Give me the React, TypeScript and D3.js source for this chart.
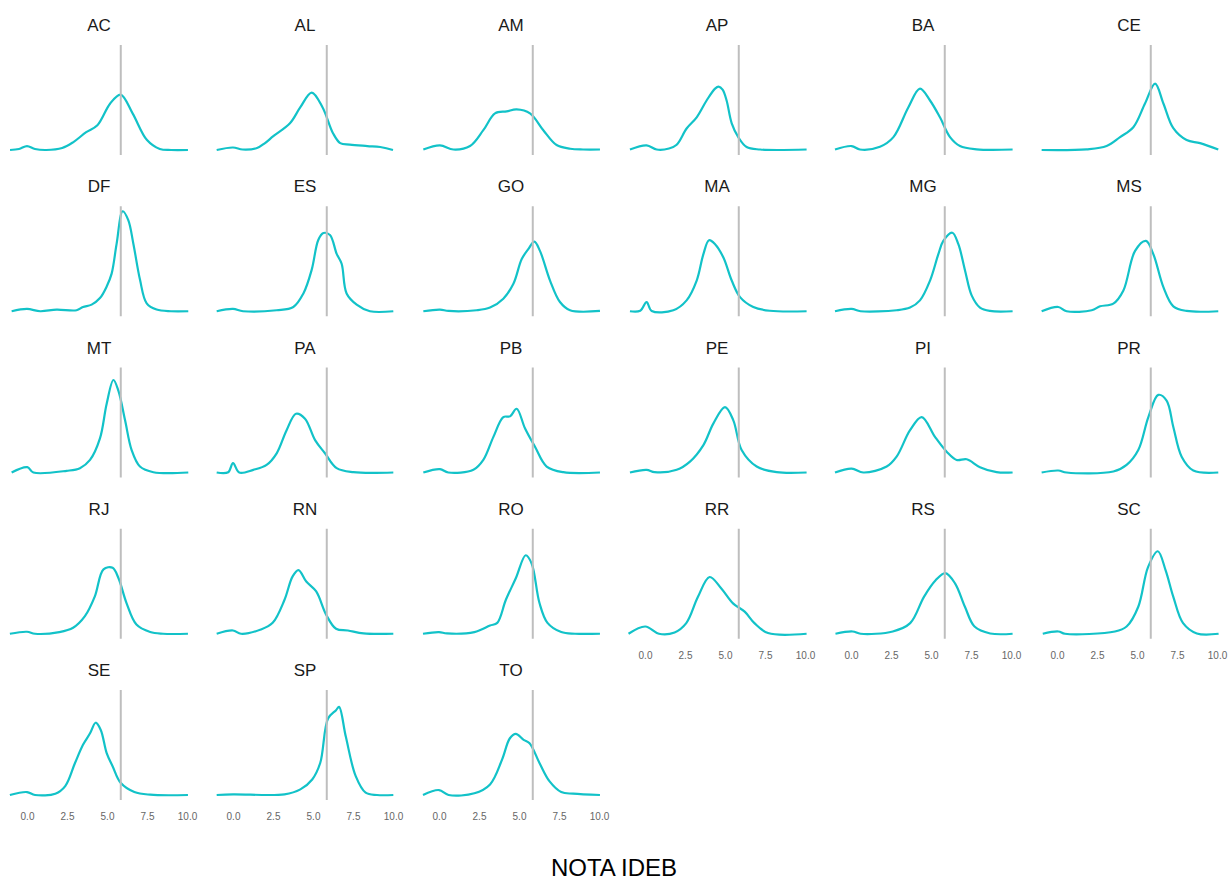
import React, { useEffect, useRef } from "react";
import * as d3 from "d3";

// density curves per state: [nota, density]
const AC = [[-1.06, 0], [-0.5, 0.01], [0, 0.04], [0.5, 0.01], [1.2, 0], [2.2, 0.02], [2.9, 0.08], [3.7, 0.18], [4.4, 0.25], [5.2, 0.47], [5.85, 0.56], [6.6, 0.37], [7.5, 0.1], [8.3, 0.01], [9, 0], [10.06, 0]];
const AL = [[-1.02, 0], [0, 0.025], [0.6, 0.005], [1.5, 0.02], [2, 0.07], [2.52, 0.14], [3.56, 0.27], [4.2, 0.43], [4.92, 0.58], [5.6, 0.43], [6.25, 0.17], [6.7, 0.07], [7.3, 0.055], [8.4, 0.04], [9.2, 0.03], [10, 0]];
const AM = [[-0.98, 0.005], [0.06, 0.047], [0.9, 0.005], [1.94, 0.04], [2.77, 0.2], [3.5, 0.37], [4.23, 0.39], [4.85, 0.41], [5.69, 0.37], [6.52, 0.2], [7.35, 0.05], [8.2, 0.013], [9, 0.005], [10.06, 0.005]];
const AP = [[-0.94, 0.005], [0.1, 0.047], [0.73, 0.005], [1.5, 0.015], [1.98, 0.053], [2.6, 0.217], [3.23, 0.33], [3.85, 0.5], [4.38, 0.62], [4.6, 0.64], [4.85, 0.61], [5.1, 0.5], [5.42, 0.27], [5.83, 0.13], [6.35, 0.03], [7.2, 0.005], [10.1, 0.005]];
const BA = [[-1, 0.005], [0.04, 0.04], [0.56, 0.005], [1.81, 0.033], [2.65, 0.13], [3.58, 0.43], [4.31, 0.62], [4.94, 0.5], [5.56, 0.33], [6.19, 0.13], [6.81, 0.04], [7.85, 0.007], [10.1, 0.005]];
const CE = [[-0.96, 0], [1.85, 0.007], [3.1, 0.04], [3.94, 0.13], [4.77, 0.23], [5.5, 0.47], [6.13, 0.67], [6.65, 0.47], [7.27, 0.22], [8.1, 0.1], [8.94, 0.07], [10.08, 0.005]];
const DF = [[-0.96, 0], [0, 0.023], [0.83, 0], [1.85, 0.017], [3.1, 0.01], [3.5, 0.043], [4.04, 0.067], [4.56, 0.133], [4.98, 0.25], [5.29, 0.38], [5.6, 0.68], [5.98, 1.01], [6.33, 0.92], [6.65, 0.68], [7.06, 0.32], [7.48, 0.08], [8.1, 0.017], [9, 0], [10.08, 0]];
const ES = [[-1.02, 0], [0, 0.023], [0.63, 0], [2.73, 0.01], [3.77, 0.043], [4.4, 0.18], [4.92, 0.42], [5.33, 0.72], [5.65, 0.79], [6.06, 0.77], [6.48, 0.58], [6.79, 0.48], [7.1, 0.18], [7.73, 0.067], [8.56, 0], [10.02, 0]];
const GO = [[-0.98, 0], [0.06, 0.017], [0.6, 0.003], [2.35, 0.01], [3.19, 0.037], [4.02, 0.127], [4.65, 0.277], [5.17, 0.527], [5.58, 0.627], [5.96, 0.703], [6.31, 0.61], [6.94, 0.31], [7.56, 0.093], [8.19, 0.01], [10.06, 0.003]];
const MA = [[-0.94, 0], [-0.3, 0.005], [0.1, 0.093], [0.42, 0.003], [1.77, 0.01], [2.6, 0.11], [3.23, 0.31], [3.65, 0.577], [4, 0.717], [4.38, 0.677], [4.9, 0.543], [5.42, 0.31], [5.94, 0.143], [6.77, 0.043], [7.8, 0.005], [10.1, 0]];
const MG = [[-1, 0], [0.04, 0.023], [0.6, 0], [2.85, 0.01], [3.69, 0.037], [4.31, 0.11], [4.94, 0.31], [5.46, 0.577], [5.77, 0.71], [6.33, 0.793], [6.71, 0.677], [7.13, 0.41], [7.54, 0.16], [8.06, 0.037], [8.69, 0.003], [10.1, 0]];
const MS = [[-0.96, 0], [0.08, 0.043], [0.6, 0], [2.17, 0.01], [2.69, 0.05], [3.52, 0.077], [4.15, 0.21], [4.88, 0.61], [5.56, 0.71], [6.02, 0.577], [6.65, 0.243], [7.27, 0.05], [8.1, 0.003], [10.08, 0]];
const MT = [[-0.96, 0], [0.02, 0.054], [0.4, 0], [2.48, 0.017], [3.31, 0.044], [3.94, 0.127], [4.56, 0.344], [4.98, 0.694], [5.4, 0.934], [5.71, 0.827], [6.13, 0.527], [6.54, 0.227], [7.06, 0.06], [7.9, 0.003], [10.08, 0]];
const PA = [[-1.02, 0], [-0.3, 0.003], [0, 0.094], [0.39, 0], [1.27, 0.027], [2.1, 0.077], [2.73, 0.194], [3.35, 0.427], [3.94, 0.594], [4.5, 0.544], [5.13, 0.327], [5.75, 0.194], [6.48, 0.044], [7.52, 0.003], [10.02, 0]];
const PB = [[-0.98, 0], [0.06, 0.034], [0.58, 0], [2.15, 0.027], [2.77, 0.127], [3.4, 0.36], [4.02, 0.56], [4.44, 0.567], [4.85, 0.644], [5.38, 0.444], [6, 0.26], [6.73, 0.06], [7.77, 0.003], [10.06, 0]];
const PE = [[-0.94, 0], [0.1, 0.027], [0.6, 0.003], [1.98, 0.027], [2.81, 0.11], [3.65, 0.277], [4.27, 0.494], [5, 0.66], [5.52, 0.527], [6.04, 0.227], [6.98, 0.06], [8.23, 0.003], [10.1, 0]];
const PI = [[-1, 0], [0.04, 0.04], [0.77, 0], [2.23, 0.06], [2.85, 0.16], [3.69, 0.427], [4.42, 0.56], [5.25, 0.36], [5.98, 0.21], [6.6, 0.127], [7.23, 0.134], [8.06, 0.054], [9.1, 0.003], [10.1, 0]];
const PR = [[-0.96, 0], [0.08, 0.02], [0.6, 0], [3.52, 0.01], [4.35, 0.077], [5.08, 0.227], [5.71, 0.56], [6.33, 0.784], [6.85, 0.727], [7.27, 0.46], [7.79, 0.16], [8.52, 0.02], [10.08, 0]];
const RJ = [[-1.07, 0], [0, 0.02], [0.5, 0], [2.02, 0.017], [2.88, 0.06], [3.62, 0.177], [4.24, 0.377], [4.78, 0.65], [5.35, 0.667], [5.72, 0.56], [6.22, 0.31], [6.84, 0.093], [7.7, 0.017], [8.5, 0], [10.06, 0]];
const RN = [[-1.02, 0], [0, 0.033], [0.5, 0], [1.74, 0.043], [2.48, 0.11], [3.22, 0.343], [3.72, 0.577], [4.09, 0.643], [4.58, 0.527], [5.2, 0.427], [5.82, 0.193], [6.44, 0.05], [7.18, 0.033], [8.16, 0.003], [10.02, 0]];
const RO = [[-1, 0], [0, 0.017], [0.5, 0.003], [2.21, 0.017], [3.19, 0.083], [3.64, 0.11], [4.18, 0.343], [4.8, 0.56], [5.42, 0.793], [5.79, 0.71], [6.28, 0.31], [6.78, 0.11], [7.64, 0.017], [8.5, 0], [10.06, 0]];
const RR = [[-1.03, 0], [0.02, 0.073], [0.87, 0], [1.85, 0.013], [2.58, 0.107], [3.31, 0.373], [4.04, 0.573], [4.77, 0.457], [5.5, 0.307], [6.23, 0.223], [6.84, 0.107], [7.69, 0.007], [10.1, 0]];
const RS = [[-0.97, 0], [0.1, 0.023], [0.6, 0], [2.61, 0.023], [3.7, 0.107], [4.56, 0.373], [5.29, 0.54], [5.9, 0.613], [6.51, 0.507], [7.12, 0.273], [7.72, 0.073], [8.7, 0.003], [10.1, 0]];
const SC = [[-0.89, 0], [0.09, 0.023], [0.5, 0], [3.62, 0.023], [4.35, 0.073], [5.08, 0.273], [5.69, 0.673], [6.3, 0.833], [6.79, 0.64], [7.27, 0.373], [7.88, 0.107], [8.74, 0.003], [10.1, 0]];
const SE = [[-1.07, 0], [0, 0.03], [0.5, 0], [1.77, 0.013], [2.39, 0.09], [3, 0.323], [3.5, 0.507], [3.94, 0.623], [4.29, 0.73], [4.61, 0.657], [4.98, 0.423], [5.35, 0.29], [5.85, 0.123], [6.71, 0.03], [7.7, 0.003], [10.06, 0]];
const SP = [[-1.02, 0], [0, 0.007], [3.22, 0.007], [4.21, 0.057], [4.95, 0.157], [5.45, 0.323], [5.94, 0.773], [6.44, 0.857], [6.63, 0.89], [7.05, 0.59], [7.67, 0.19], [8.29, 0.023], [9, 0], [10.02, 0]];
const TO = [[-1, 0], [0, 0.05], [0.6, 0], [2.21, 0.017], [3.19, 0.107], [3.94, 0.357], [4.43, 0.573], [4.8, 0.617], [5.29, 0.557], [5.66, 0.523], [6.28, 0.323], [6.9, 0.14], [7.64, 0.03], [8.38, 0.013], [10.06, 0]];

const STATES = ["AC", "AL", "AM", "AP", "BA", "CE", "DF", "ES", "GO", "MA", "MG", "MS", "MT", "PA", "PB", "PE", "PI", "PR", "RJ", "RN", "RO", "RR", "RS", "SC", "SE", "SP", "TO"];
const CURVES: Record<string, number[][]> = { AC, AL, AM, AP, BA, CE, DF, ES, GO, MA, MG, MS, MT, PA, PB, PE, PI, PR, RJ, RN, RO, RR, RS, SC, SE, SP, TO };
const X_TICKS = [0, 2.5, 5, 7.5, 10];
const REF_LINE = 5.86;
const X_TITLE = "NOTA IDEB";

const WIDTH = 1231;
const HEIGHT = 880;
const N_COLS = 6;
const COL_STEP = 206;
const ROW_STEP = 161.25;
const PANEL_TOP = 45;
const PANEL_H = 110;
const FONT = "'Liberation Sans', Arial, Helvetica, sans-serif";
const CURVE_COLOR = "#12C2C8";

export default function App() {
  const gRef = useRef<SVGGElement>(null);

  useEffect(() => {
    const g = d3.select(gRef.current);
    g.selectAll("*").remove();

    const x = d3.scaleLinear().domain([0, 10]).range([27, 187]);
    const yMax = d3.max(STATES, (s) => d3.max(CURVES[s], (d) => d[1])) || 1;
    const y = d3
      .scaleLinear()
      .domain([-0.05 * yMax, 1.05 * yMax])
      .range([PANEL_H, 0]);
    const line = d3
      .line<number[]>()
      .x((d) => x(d[0]))
      .y((d) => Math.min(y(d[1]), y(0)))
      .curve(d3.curveCatmullRom.alpha(0.5));

    const nRows = Math.ceil(STATES.length / N_COLS);

    STATES.forEach((s, i) => {
      const col = i % N_COLS;
      const row = Math.floor(i / N_COLS);
      const panel = g
        .append("g")
        .attr("transform", `translate(${col * COL_STEP}, ${PANEL_TOP + row * ROW_STEP})`);

      // strip label
      panel
        .append("text")
        .attr("x", (x(-1.06) + x(10.06)) / 2)
        .attr("y", -14)
        .attr("text-anchor", "middle")
        .attr("font-family", FONT)
        .attr("font-size", 17)
        .attr("fill", "#1A1A1A")
        .text(s);

      panel
        .append("path")
        .datum(CURVES[s])
        .attr("d", line)
        .attr("fill", "none")
        .attr("stroke", CURVE_COLOR)
        .attr("stroke-width", 2.2)
        .attr("stroke-linejoin", "round");

      panel
        .append("line")
        .attr("x1", x(REF_LINE))
        .attr("x2", x(REF_LINE))
        .attr("y1", 0)
        .attr("y2", PANEL_H)
        .attr("stroke", "#BEBEBE")
        .attr("stroke-width", 2);

      // x axis only under the last panel of each column
      const isBottom = i + N_COLS >= STATES.length || row === nRows - 1;
      if (isBottom) {
        const axis = d3
          .axisBottom(x)
          .tickValues(X_TICKS)
          .tickFormat(d3.format(".1f"))
          .tickSize(0)
          .tickPadding(13);
        panel
          .append("g")
          .attr("transform", `translate(0, ${PANEL_H})`)
          .call(axis as any)
          .call((a) => a.select(".domain").remove())
          .call((a) =>
            a
              .selectAll(".tick text")
              .attr("fill", "#666666")
              .attr("font-family", FONT)
              .attr("font-size", 10)
          );
      }
    });

    g.append("text")
      .attr("x", 614)
      .attr("y", 876)
      .attr("text-anchor", "middle")
      .attr("font-family", FONT)
      .attr("font-size", 24)
      .attr("fill", "#000000")
      .text(X_TITLE);
  }, []);

  return (
    <svg
      width={WIDTH}
      height={HEIGHT}
      style={{ position: "absolute", left: 0, top: 0, background: "#ffffff" }}
    >
      <g ref={gRef}></g>
    </svg>
  );
}
